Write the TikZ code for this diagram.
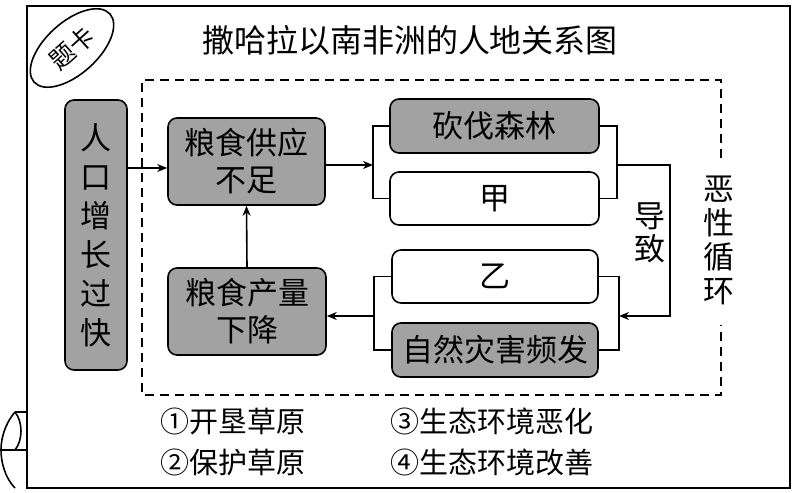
\documentclass[tikz,border=0pt]{standalone}
\usepackage{fontspec}
\setmainfont{Noto Sans CJK SC}
\usetikzlibrary{arrows.meta}
\definecolor{boxgray}{RGB}{162,162,162}
\begin{document}
\begin{tikzpicture}[x=1pt,y=-1pt,
  lw/.style={line width=1.6pt},
  gbox/.style={lw,draw,rounded corners=9pt,fill=boxgray,align=center,inner sep=0pt,font=\fontsize{31}{37}\selectfont},
  wbox/.style={lw,draw,rounded corners=9pt,fill=white,align=center,inner sep=0pt,font=\fontsize{31}{37}\selectfont},
  arr/.style={lw,-{Stealth[length=10pt,width=8pt]}},
  conn/.style={lw},
  lab/.style={font=\fontsize{31}{33}\selectfont,align=center,inner sep=0pt},
  leg/.style={font=\fontsize{29}{30}\selectfont,anchor=west,inner sep=0pt}]
\useasboundingbox (0,0) rectangle (796,493);
% outer frame
\draw[lw] (27,6) rectangle (790,488);
% scroll at bottom left
\draw[lw] (15,412) -- (27,412);
\draw[lw] (15,412) .. controls (4,425) and (1,440) .. (1,450) .. controls (1,462) and (5,478) .. (15,488);
\draw[lw] (1,450) -- (27,450);
\draw[lw] (15,412) .. controls (23,422) and (23,440) .. (15,450);
% title card ellipse
\draw[lw] (72,48) ellipse [x radius=51pt, y radius=26pt, rotate=42];
\node[rotate=42,font=\fontsize{25}{25}\selectfont,inner sep=0pt] (tk) at (72,48) {题卡};
% title
\node[font=\fontsize{32}{32}\selectfont,inner sep=0pt] (title) at (410,40) {撒哈拉以南非洲的人地关系图};
% dashed box
\draw[lw,dash pattern=on 9pt off 6pt] (721,158) -- (721,80) -- (142,80) -- (142,395) -- (721,395) -- (721,325);
\node[lab,font=\fontsize{31}{34}\selectfont] (ex) at (719,240) {恶\\性\\循\\环};
% nodes
\node[gbox,minimum width=62pt,minimum height=270pt,font=\fontsize{31}{39}\selectfont] (rk) at (96,235) {人\\口\\增\\长\\过\\快};
\node[gbox,minimum width=157pt,minimum height=87pt] (gy) at (246.5,161.5) {粮食供应\\不足};
\node[gbox,minimum width=158pt,minimum height=87pt] (cl) at (247,311.5) {粮食产量\\下降};
\node[gbox,minimum width=209pt,minimum height=54pt] (kf) at (494.5,126) {砍伐森林};
\node[wbox,minimum width=209pt,minimum height=53pt] (jia) at (494.5,198.5) {甲};
\node[wbox,minimum width=206pt,minimum height=53pt] (yi) at (495,276.5) {乙};
\node[gbox,minimum width=206pt,minimum height=54pt] (zr) at (495,350) {自然灾害频发};
\node[lab] (dz) at (650,233) {导\\致};
% connectors
\coordinate (lb1) at (373,165);
\coordinate (rb1) at (617,165);
\coordinate (rb2) at (619,316);
\coordinate (lb2) at (374,316);
\coordinate (turn) at (670,165);
\draw[arr] (rk.east |- 0,168) -- (gy.west |- 0,168);
\draw[arr] (cl.north) -- (gy.south);
\draw[arr] (gy.east |- lb1) -- (lb1);
\draw[conn] (kf.west) -| (lb1) |- (jia.west);
\draw[conn] (kf.east) -| (rb1) |- (jia.east);
\draw[arr] (rb1) -- (turn) |- (rb2);
\draw[conn] (yi.east) -| (rb2) |- (zr.east);
\draw[conn] (yi.west) -| (lb2) |- (zr.west);
\draw[arr] (lb2) -- (cl.east |- lb2);
% legend
\node[leg] (l1) at (160,421) {①开垦草原};
\node[leg] (l2) at (160,462) {②保护草原};
\node[leg] (l3) at (390,421) {③生态环境恶化};
\node[leg] (l4) at (390,462) {④生态环境改善};
\end{tikzpicture}
\end{document}
